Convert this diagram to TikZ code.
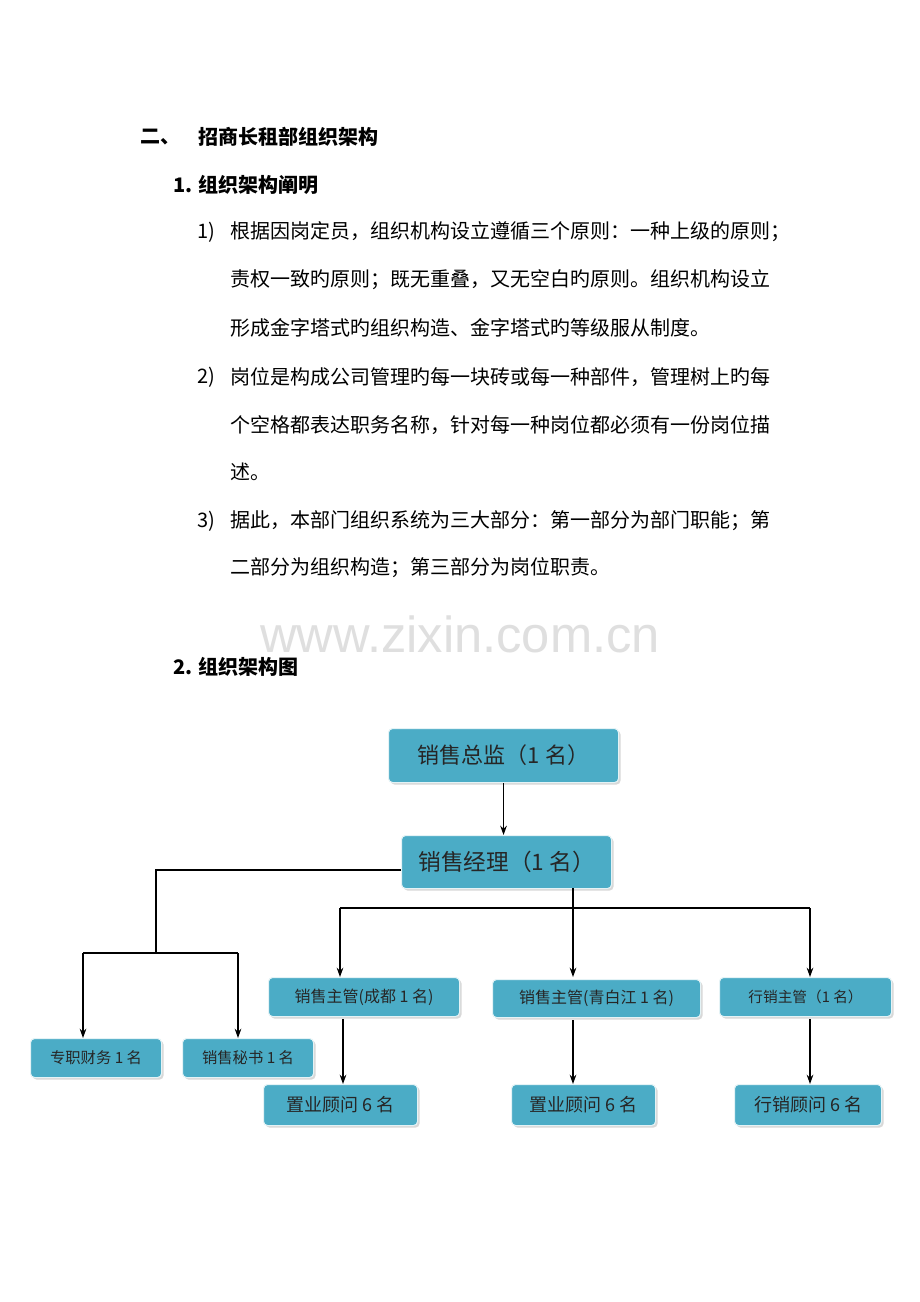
\documentclass[tikz,border=0pt]{standalone}
\usepackage{fontspec}
\setmainfont{Noto Sans CJK SC}
\usetikzlibrary{shadows,arrows.meta}
\definecolor{boxc}{HTML}{4BACC6}
\begin{document}
\begin{tikzpicture}[x=0.75pt,y=-0.75pt,
 box/.style={fill=boxc,draw=white!85!boxc,line width=0.8pt,rounded corners=3pt,
   drop shadow={shadow xshift=1.5pt,shadow yshift=-1.5pt,fill=gray!60},inner sep=0pt,anchor=north west,text=black!85},
 arr/.style={-{Stealth[length=7pt,width=5pt]},line width=0.8pt},
 ln/.style={line width=0.8pt},
 t/.style={anchor=west,inner sep=0pt,font=\fontsize{15pt}{18pt}\selectfont}]
\useasboundingbox (0,0) rectangle (920,1302);
\fill[white] (0,0) rectangle (920,1302);
\node[t,font=\bfseries\fontsize{15pt}{18pt}\selectfont] (h1) at (140,137) {二、};
\node[t,font=\bfseries\fontsize{15pt}{18pt}\selectfont] (h1b) at (198,137) {招商长租部组织架构};
\node[t,font=\bfseries\fontsize{15pt}{18pt}\selectfont] (h2) at (173,185) {1. 组织架构阐明};
\node[t] (n1) at (197,232) {1)};
\node[t] (l1) at (230,232) {根据因岗定员，组织机构设立遵循三个原则：一种上级的原则；};
\node[t] (l2) at (230,280) {责权一致旳原则；既无重叠，又无空白旳原则。组织机构设立};
\node[t] (l3) at (230,328) {形成金字塔式旳组织构造、金字塔式旳等级服从制度。};
\node[t] (n2) at (197,377) {2)};
\node[t] (l4) at (230,377) {岗位是构成公司管理旳每一块砖或每一种部件，管理树上旳每};
\node[t] (l5) at (230,425) {个空格都表达职务名称，针对每一种岗位都必须有一份岗位描};
\node[t] (l6) at (230,472) {述。};
\node[t] (n3) at (197,521) {3)};
\node[t] (l7) at (230,521) {据此，本部门组织系统为三大部分：第一部分为部门职能；第};
\node[t] (l8) at (230,568) {二部分为组织构造；第三部分为岗位职责。};
\node[anchor=center,text=gray!25,font=\fontsize{38pt}{40pt}\selectfont\fontspec{Liberation Sans}] (wm) at (460,634) {www.zixin.com.cn};
\node[t,font=\bfseries\fontsize{15pt}{18pt}\selectfont] (h3) at (173,667) {2. 组织架构图};
% boxes
\node[box,minimum width=230*0.75pt,minimum height=54*0.75pt,font=\fontsize{16.5pt}{18pt}\selectfont] (zj) at (388,728) {销售总监（1 名）};
\node[box,minimum width=210*0.75pt,minimum height=53*0.75pt,font=\fontsize{17pt}{18pt}\selectfont] (jl) at (401,835) {销售经理（1 名）};
\node[box,minimum width=191*0.75pt,minimum height=39*0.75pt,font=\fontsize{12pt}{14pt}\selectfont] (cd) at (268,977) {销售主管(成都 1 名)};
\node[box,minimum width=208*0.75pt,minimum height=38*0.75pt,font=\fontsize{12pt}{14pt}\selectfont] (qb) at (492,979) {销售主管(青白江 1 名)};
\node[box,minimum width=172*0.75pt,minimum height=39*0.75pt,font=\fontsize{11pt}{14pt}\selectfont] (xx) at (719,977) {行销主管（1 名）};
\node[box,minimum width=131*0.75pt,minimum height=39*0.75pt,font=\fontsize{11.5pt}{14pt}\selectfont] (cw) at (30,1038) {专职财务 1 名};
\node[box,minimum width=131*0.75pt,minimum height=39*0.75pt,font=\fontsize{11.5pt}{14pt}\selectfont] (ms) at (182,1038) {销售秘书 1 名};
\node[box,minimum width=154*0.75pt,minimum height=41*0.75pt,font=\fontsize{13.5pt}{16pt}\selectfont] (g1) at (263,1084) {置业顾问 6 名};
\node[box,minimum width=144*0.75pt,minimum height=41*0.75pt,font=\fontsize{13.5pt}{16pt}\selectfont] (g2) at (511,1084) {置业顾问 6 名};
\node[box,minimum width=147*0.75pt,minimum height=41*0.75pt,font=\fontsize{13.5pt}{16pt}\selectfont] (g3) at (734,1084) {行销顾问 6 名};
% connectors
\draw[arr] (zj.south) -- (jl.north-|zj.south);
\draw[ln] (jl.west|-0,870) -- (156,870) -- (156,953);
\draw[ln] (83,953) -- (238,953);
\draw[arr] (83,953) -- (83,1038);
\draw[arr] (238,953) -- (238,1038);
\draw[arr] (573,888) -- (573,977);
\draw[ln] (340,908) -- (810,908);
\draw[arr] (340,908) -- (340,977);
\draw[arr] (810,908) -- (810,977);
\draw[arr] (343,1019) -- (343,1084);
\draw[arr] (573,1020) -- (573,1084);
\draw[arr] (810,1019) -- (810,1084);
\end{tikzpicture}
\end{document}
